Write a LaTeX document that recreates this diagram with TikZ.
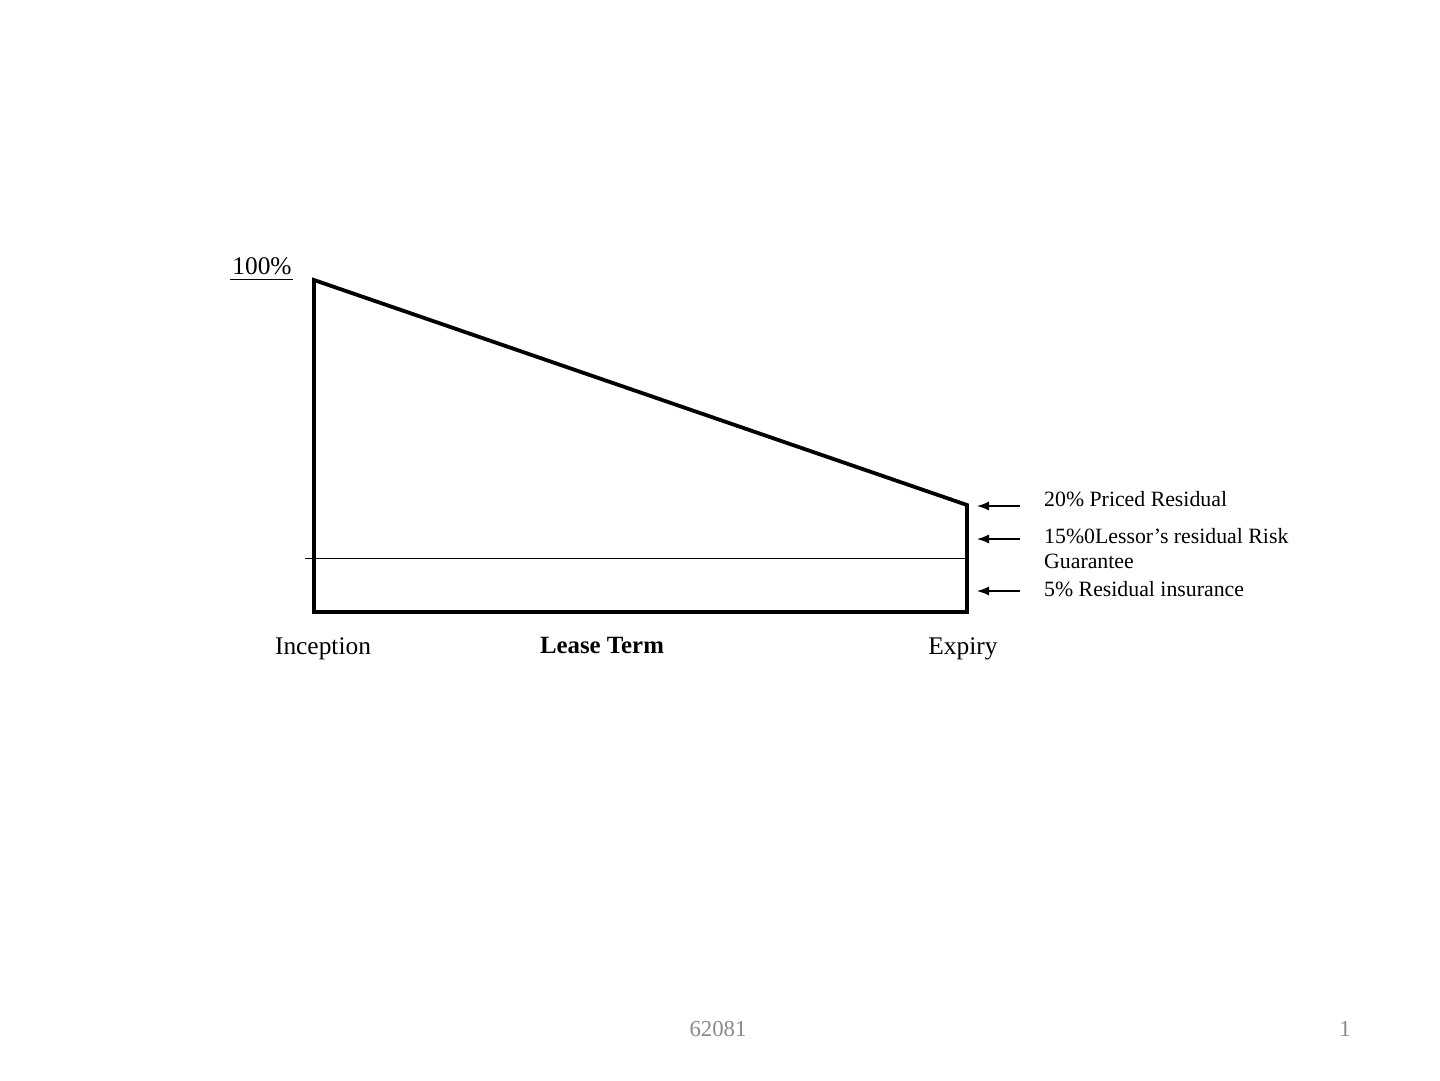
\documentclass[tikz,border=0pt]{standalone}
\usepackage{fontspec}
\setmainfont{Liberation Serif}
\usetikzlibrary{arrows.meta}
\definecolor{pgray}{HTML}{8A8A8A}
\begin{document}
\begin{tikzpicture}[x=1pt,y=-1pt,
  lbl/.style={inner sep=0pt,font=\fontsize{21.8}{24}\selectfont},
  axl/.style={inner sep=0pt,font=\fontsize{25.4}{28}\selectfont},
  thickline/.style={line width=3.8pt,line join=miter},
  ptr/.style={line width=1.3pt,-{Latex[length=12pt,width=9pt]}}]
\useasboundingbox[fill=white] (0,0) rectangle (1440,1080);
% shape
\coordinate (bl) at (314,612);
\coordinate (tl) at (314,280);
\coordinate (tr) at (967,505);
\coordinate (br) at (967,612);
\draw[thickline] (bl) -- (tl) -- (tr) -- (br) -- cycle;
\coordinate (hl) at (305,558);
\coordinate (hr) at (967,558);
\draw[line width=0.9pt] (hl) -- (hr);
% 100% label
\node[axl,anchor=base] (hundred) at (262,274) {100\%};
\coordinate (ul) at (230,279);
\coordinate (ur) at (293,279);
\draw[line width=1pt] (ul) -- (ur);
% arrows
\coordinate (a1s) at (1020,506); \coordinate (a1e) at (977,506);
\coordinate (a2s) at (1020,539); \coordinate (a2e) at (977,539);
\coordinate (a3s) at (1020,591); \coordinate (a3e) at (977,591);
\draw[ptr] (a1s) -- (a1e);
\draw[ptr] (a2s) -- (a2e);
\draw[ptr] (a3s) -- (a3e);
% right labels
\node[lbl,anchor=base west] (t1) at (1044,506) {20\% Priced Residual};
\node[lbl,anchor=base west] (t2) at (1044,543) {15\%0Lessor’s residual Risk};
\node[lbl,anchor=base west] (t3) at (1044,568) {Guarantee};
\node[lbl,anchor=base west] (t4) at (1044,596) {5\% Residual insurance};
% bottom labels
\node[axl,anchor=base] (inc) at (323,654) {Inception};
\node[axl,anchor=base,font=\fontsize{24.8}{28}\selectfont\bfseries] (lt) at (602,653) {Lease Term};
\node[axl,anchor=base] (exp) at (963,654) {Expiry};
% footer
\node[inner sep=0pt,anchor=base,text=pgray,font=\fontsize{22.8}{26}\selectfont] (foot) at (718,1036) {62081};
\node[inner sep=0pt,anchor=base,text=pgray,font=\fontsize{22.8}{26}\selectfont] (pg) at (1345,1036) {1};
\end{tikzpicture}
\end{document}
